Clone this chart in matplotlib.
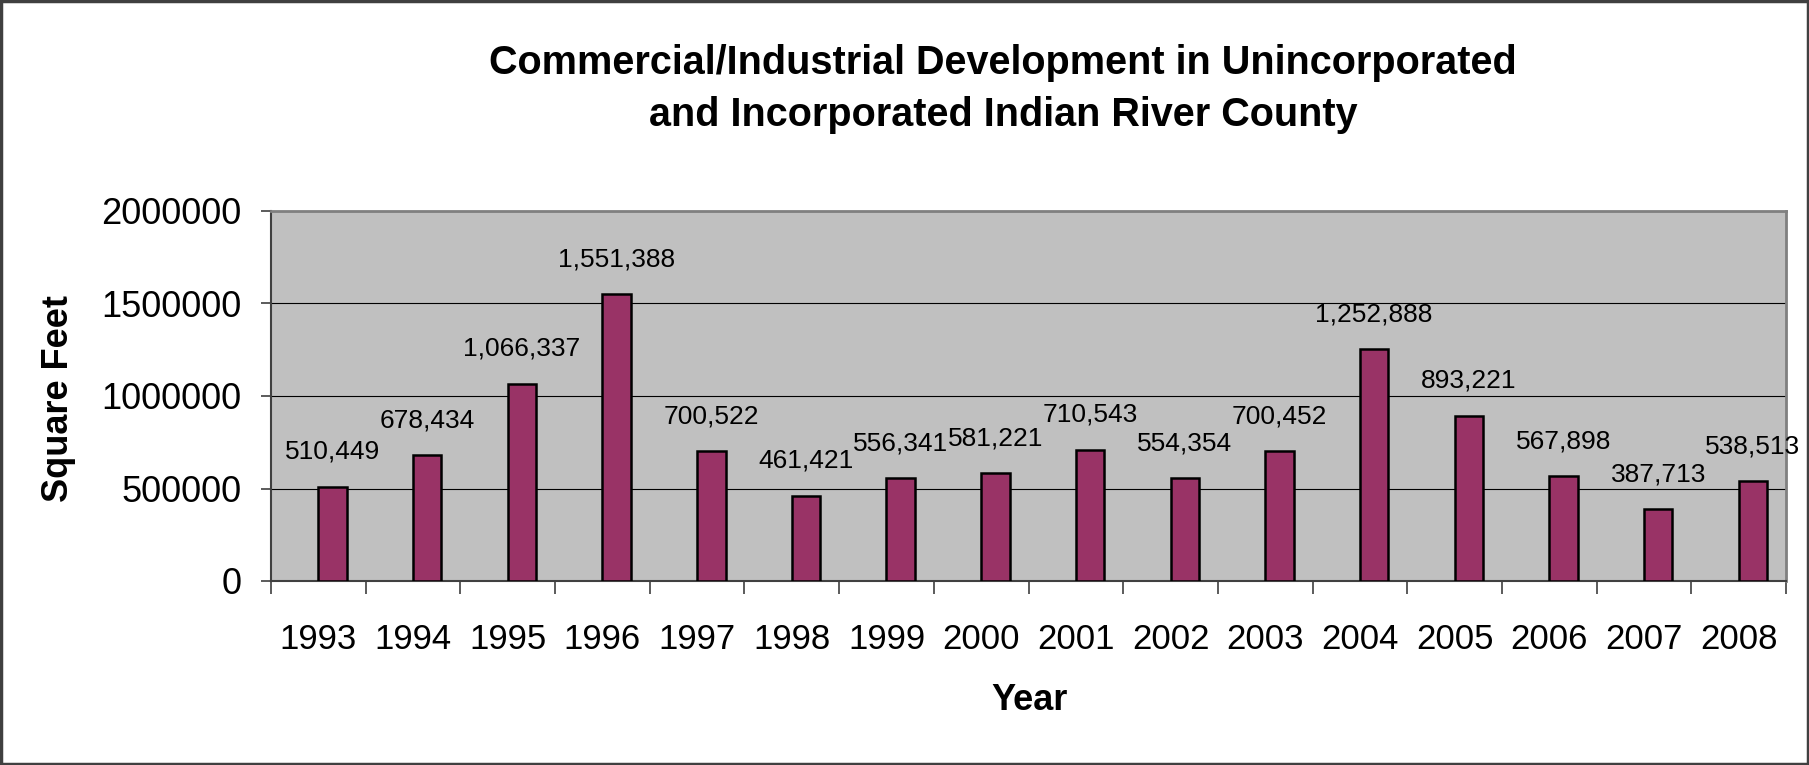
import numpy as np
import matplotlib
matplotlib.use("Agg")
import matplotlib.pyplot as plt
from matplotlib.patches import Rectangle
from matplotlib.ticker import FixedLocator, NullFormatter

# data
years = ["1993", "1994", "1995", "1996", "1997", "1998", "1999", "2000",
         "2001", "2002", "2003", "2004", "2005", "2006", "2007", "2008"]
square_feet = [510449, 678434, 1066337, 1551388, 700522, 461421, 556341, 581221,
               710543, 554354, 700452, 1252888, 893221, 567898, 387713, 538513]
y_ticks = [0, 500000, 1000000, 1500000, 2000000]

plt.rcParams['font.family'] = ['Liberation Sans', 'DejaVu Sans']

W, H = 1809, 765
fig = plt.figure(figsize=(W / 100, H / 100), dpi=100)
fig.patch.set_facecolor('white')

# plot area
ax = fig.add_axes([271 / W, 1 - 581 / H, (1786 - 271) / W, (581 - 211) / H])
ax.set_facecolor('#C0C0C0')

x = np.arange(len(years))
bar_shift = 0.15  # bars sit a little right of the category centre, as in Excel
bars = ax.bar(x + bar_shift, square_feet, width=0.3, color='#993366',
              edgecolor='black', linewidth=1.8, zorder=3)

# data labels above each bar
for xi, v in zip(x, square_feet):
    ax.annotate(f"{v:,}", (xi + bar_shift, v), xytext=(0, 20),
                textcoords='offset points', ha='center', va='baseline',
                fontsize=19, zorder=4, annotation_clip=False)

ax.set_xlim(-0.5, len(years) - 0.5)
ax.set_ylim(0, 2000000)
ax.set_yticks(y_ticks)
ax.set_yticklabels([str(t) for t in y_ticks])
ax.yaxis.grid(True, color='black', linewidth=0.8, zorder=1)
ax.set_axisbelow(True)

# category labels at centres, tick marks at category boundaries
ax.set_xticks(x)
ax.set_xticklabels(years)
ax.xaxis.set_minor_locator(FixedLocator(np.arange(len(years) + 1) - 0.5))
ax.xaxis.set_minor_formatter(NullFormatter())
ax.tick_params(axis='x', which='major', length=0, pad=30, labelsize=25)
ax.tick_params(axis='x', which='minor', length=9, width=1.2, color='#404040',
               direction='out')
ax.tick_params(axis='y', length=7, width=1.2, color='#404040', pad=14,
               labelsize=26)

for side in ['top', 'right']:
    ax.spines[side].set_color('#808080')
    ax.spines[side].set_linewidth(2)
for side in ['left', 'bottom']:
    ax.spines[side].set_color('#404040')
    ax.spines[side].set_linewidth(1.5)

# titles and axis labels
fig.text(1003 / W, 1 - 63 / H, "Commercial/Industrial Development in Unincorporated",
         ha='center', va='center', fontsize=28.5, fontweight='bold')
fig.text(1003 / W, 1 - 115 / H, "and Incorporated Indian River County",
         ha='center', va='center', fontsize=28.5, fontweight='bold')
fig.text(1030 / W, 1 - 700 / H, "Year", ha='center', va='center',
         fontsize=26, fontweight='bold')
fig.text(58 / W, 1 - 398 / H, "Square Feet", ha='center', va='center',
         rotation=90, fontsize=26, fontweight='bold')

# chart border
fig.patches.append(Rectangle((0.0005, 0.001), 0.999, 0.998, transform=fig.transFigure,
                             fill=False, edgecolor='#404040', linewidth=2.5))

fig.savefig("out.png", dpi=100)
